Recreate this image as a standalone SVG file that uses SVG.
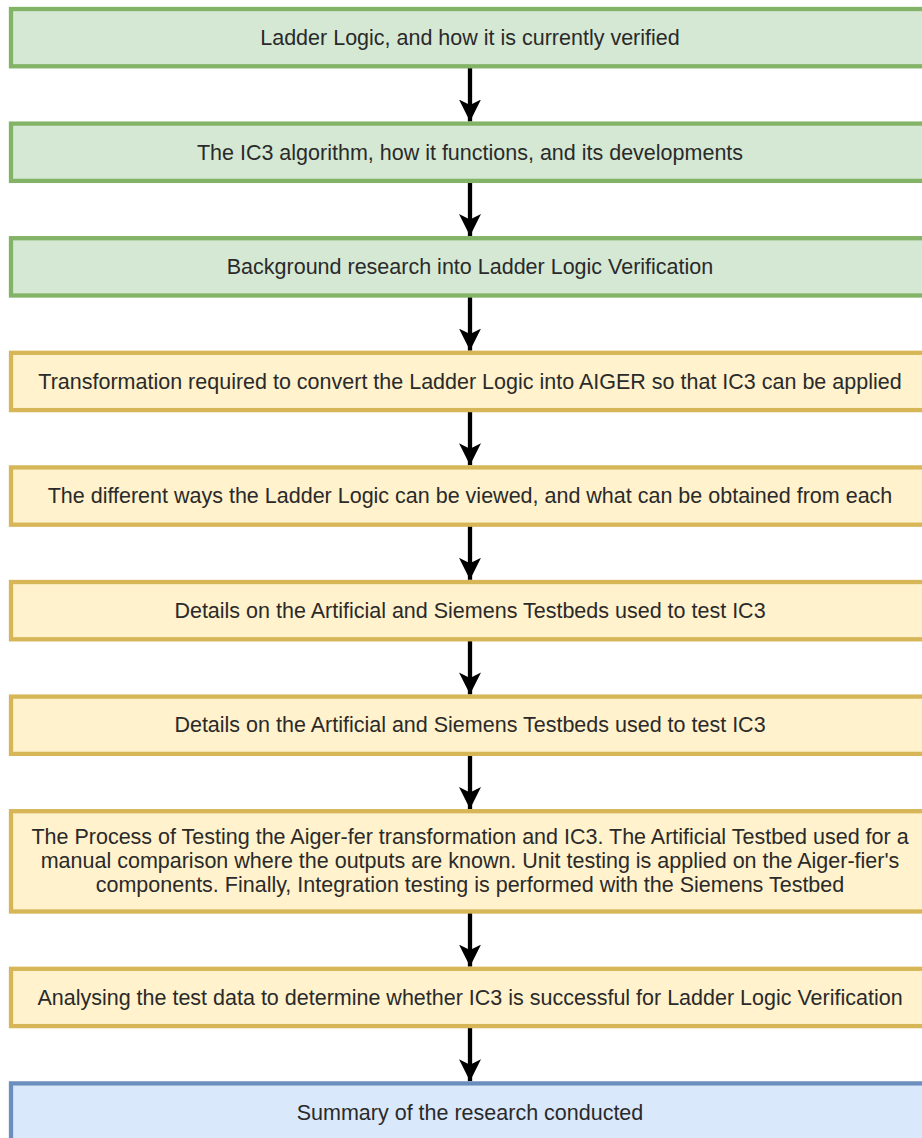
<svg xmlns="http://www.w3.org/2000/svg" width="922" height="1138" viewBox="0 0 922 1138">
  <defs>
    <style>
      .box { stroke-width: 4.3; }
      .green { fill: #d5e8d4; stroke: #82b366; }
      .yellow { fill: #fff2cc; stroke: #d6b656; }
      .blue { fill: #dae8fc; stroke: #6c8ebf; }
      .label { font-family: "Liberation Sans", Arial, Helvetica, sans-serif; font-size: 21.5px; fill: #2a2a2a; text-anchor: middle; dominant-baseline: central; }
      .conn { stroke: #000; stroke-width: 4.3; fill: none; marker-end: url(#arrow); }
    </style>
    <marker id="arrow" markerUnits="userSpaceOnUse" viewBox="0 0 22 22" markerWidth="22" markerHeight="22" refX="22" refY="11" orient="auto">
      <path d="M0,0 L22,11 L0,22 L5.5,11 Z" fill="#000"/>
    </marker>
  </defs>
  <rect width="922" height="1138" fill="#fff"/>

  <g id="connectors">
    <line class="conn" x1="470" y1="66" x2="470" y2="121.5"/>
    <line class="conn" x1="470" y1="181" x2="470" y2="236"/>
    <line class="conn" x1="470" y1="295.5" x2="470" y2="350.6"/>
    <line class="conn" x1="470" y1="410" x2="470" y2="465.2"/>
    <line class="conn" x1="470" y1="524.7" x2="470" y2="579.8"/>
    <line class="conn" x1="470" y1="639.3" x2="470" y2="694.4"/>
    <line class="conn" x1="470" y1="753.9" x2="470" y2="809"/>
    <line class="conn" x1="470" y1="911.5" x2="470" y2="966.6"/>
    <line class="conn" x1="470" y1="1026.1" x2="470" y2="1081.2"/>
  </g>

  <g id="node1">
    <rect class="box green" x="11" y="9" width="918" height="57.3"/>
    <text class="label" x="470" y="38">Ladder Logic, and how it is currently verified</text>
  </g>
  <g id="node2">
    <rect class="box green" x="11" y="123.6" width="918" height="57.3"/>
    <text class="label" x="470" y="152.5">The IC3 algorithm, how it functions, and its developments</text>
  </g>
  <g id="node3">
    <rect class="box green" x="11" y="238.2" width="918" height="57.3"/>
    <text class="label" x="470" y="267">Background research into Ladder Logic Verification</text>
  </g>
  <g id="node4">
    <rect class="box yellow" x="11" y="352.8" width="918" height="57.3"/>
    <text class="label" x="470" y="381.5">Transformation required to convert the Ladder Logic into AIGER so that IC3 can be applied</text>
  </g>
  <g id="node5">
    <rect class="box yellow" x="11" y="467.4" width="918" height="57.3"/>
    <text class="label" x="470" y="496">The different ways the Ladder Logic can be viewed, and what can be obtained from each</text>
  </g>
  <g id="node6">
    <rect class="box yellow" x="11" y="582" width="918" height="57.3"/>
    <text class="label" x="470" y="610.7">Details on the Artificial and Siemens Testbeds used to test IC3</text>
  </g>
  <g id="node7">
    <rect class="box yellow" x="11" y="696.6" width="918" height="57.3"/>
    <text class="label" x="470" y="725.3">Details on the Artificial and Siemens Testbeds used to test IC3</text>
  </g>
  <g id="node8">
    <rect class="box yellow" x="11" y="811.2" width="918" height="100.3"/>
    <text class="label" x="470" y="836.5">The Process of Testing the Aiger-fer transformation and IC3. The Artificial Testbed used for a</text>
    <text class="label" x="470" y="860.5">manual comparison where the outputs are known. Unit testing is applied on the Aiger-fier's</text>
    <text class="label" x="470" y="884.5">components. Finally, Integration testing is performed with the Siemens Testbed</text>
  </g>
  <g id="node9">
    <rect class="box yellow" x="11" y="968.8" width="918" height="57.3"/>
    <text class="label" x="470" y="997.5">Analysing the test data to determine whether IC3 is successful for Ladder Logic Verification</text>
  </g>
  <g id="node10">
    <rect class="box blue" x="11" y="1083.4" width="918" height="57.3"/>
    <text class="label" x="470" y="1112.5">Summary of the research conducted</text>
  </g>
</svg>
